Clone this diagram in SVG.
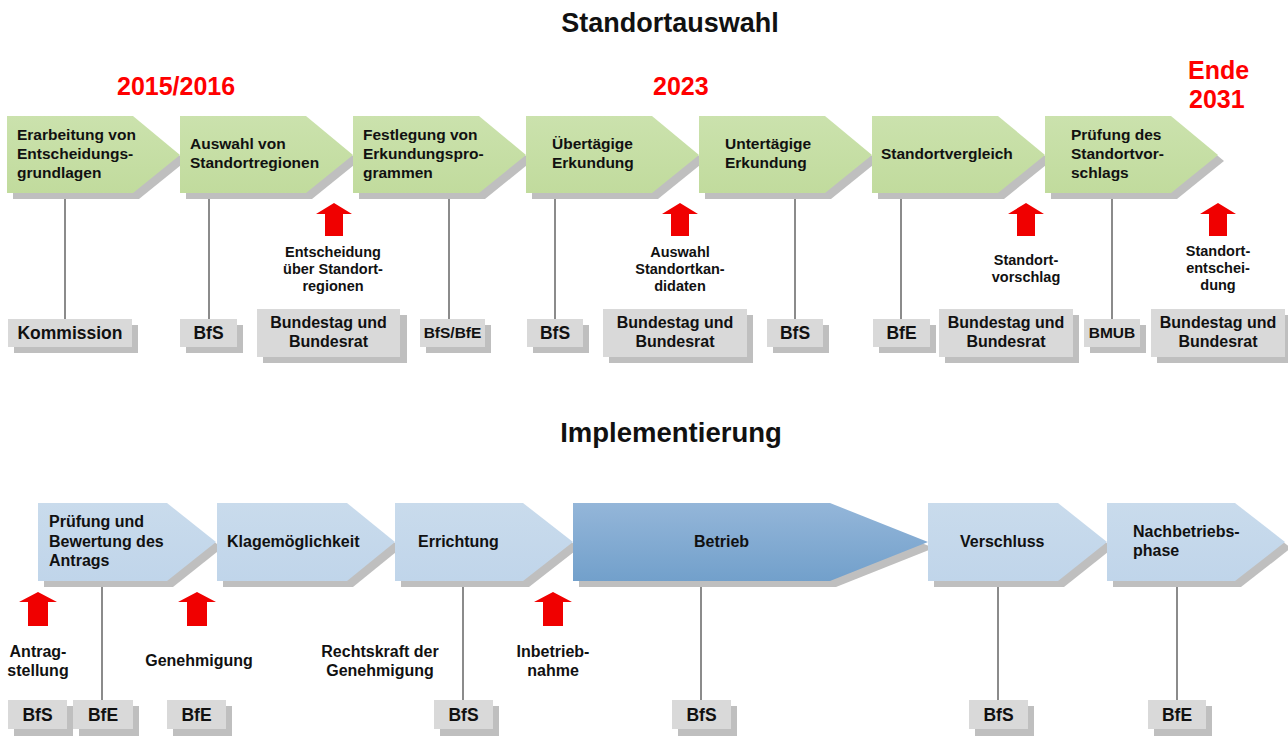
<svg xmlns="http://www.w3.org/2000/svg" xmlns:xlink="http://www.w3.org/1999/xlink" width="1288" height="736" viewBox="0 0 1288 736">
<defs>
<linearGradient id="gGreen" x1="0" y1="0" x2="0" y2="1"><stop offset="0" stop-color="#cbe2ad"/><stop offset="1" stop-color="#c1db9d"/></linearGradient>
<linearGradient id="gBlue" x1="0" y1="0" x2="0" y2="1"><stop offset="0" stop-color="#c9dbec"/><stop offset="1" stop-color="#c0d5ea"/></linearGradient>
<linearGradient id="gDark" x1="0" y1="0" x2="0" y2="1"><stop offset="0" stop-color="#94b6d9"/><stop offset="1" stop-color="#72a0cb"/></linearGradient>
<path id="arrowTop" d="M0,0 L18,11 L9,11 L9,33 L-9,33 L-9,11 L-18,11 Z"/>
<path id="arrowBot" d="M0,0 L19,10 L10,10 L10,34 L-10,34 L-10,10 L-19,10 Z"/>
</defs>
<style>
text{font-family:"Liberation Sans",Arial,sans-serif;font-weight:bold;fill:#111}
.title{font-size:27px;text-anchor:middle}
.year{font-size:25px;fill:#ff0000}
.ct{font-size:15.5px}
.cb{font-size:16px}
.lt{font-size:14.5px;text-anchor:middle}
.lb{font-size:16px;text-anchor:middle}
.bx{font-size:17.5px;text-anchor:middle}
.bxs{font-size:15.5px;text-anchor:middle}
.bx2{font-size:16px;text-anchor:middle}
.sh{fill:#bfbfbf}
.box{fill:#d9d9d9}
.green{fill:url(#gGreen)}
.blue{fill:url(#gBlue)}
.dark{fill:url(#gDark)}
.red{fill:#f00000}
.conn line{stroke:#5a5a5a;stroke-width:1.4}
</style>
<rect width="1288" height="736" fill="#ffffff"/>

<text class="title" x="670" y="32">Standortauswahl</text>
<text class="title" x="671" y="442" style="font-size:27.5px">Implementierung</text>
<text class="year" x="117" y="95">2015/2016</text>
<text class="year" x="653" y="95">2023</text>
<text class="year" x="1188" y="79">Ende</text>
<text class="year" x="1189" y="108">2031</text>

<g id="connectors" class="conn">
<line x1="65" y1="193" x2="65" y2="319"/>
<line x1="209" y1="193" x2="209" y2="319"/>
<line x1="449" y1="193" x2="449" y2="319"/>
<line x1="555" y1="193" x2="555" y2="319"/>
<line x1="795" y1="193" x2="795" y2="319"/>
<line x1="901" y1="193" x2="901" y2="319"/>
<line x1="1112" y1="193" x2="1112" y2="319"/>
<line x1="102" y1="581" x2="102" y2="700"/>
<line x1="463" y1="581" x2="463" y2="700"/>
<line x1="701" y1="581" x2="701" y2="700"/>
<line x1="998" y1="581" x2="998" y2="700"/>
<line x1="1177" y1="581" x2="1177" y2="700"/>
</g>

<!-- top chevrons -->
<g id="s1">
<polygon class="sh" points="13,122 139,122 186,161 139,199 13,199"/>
<polygon class="green" points="7,116 133,116 180,155 133,193 7,193"/>
<text class="ct" x="17" y="140">Erarbeitung von</text>
<text class="ct" x="17" y="159">Entscheidungs-</text>
<text class="ct" x="17" y="178">grundlagen</text>
</g>
<g id="s2">
<polygon class="sh" points="186,122 312,122 359,161 312,199 186,199"/>
<polygon class="green" points="180,116 306,116 353,155 306,193 180,193"/>
<text class="ct" x="190" y="149">Auswahl von</text>
<text class="ct" x="190" y="168">Standortregionen</text>
</g>
<g id="s3">
<polygon class="sh" points="359,122 485,122 532,161 485,199 359,199"/>
<polygon class="green" points="353,116 479,116 526,155 479,193 353,193"/>
<text class="ct" x="363" y="140">Festlegung von</text>
<text class="ct" x="363" y="159">Erkundungspro-</text>
<text class="ct" x="363" y="178">grammen</text>
</g>
<g id="s4">
<polygon class="sh" points="532,122 658,122 705,161 658,199 532,199"/>
<polygon class="green" points="526,116 652,116 699,155 652,193 526,193"/>
<text class="ct" x="552" y="149">Übertägige</text>
<text class="ct" x="552" y="168">Erkundung</text>
</g>
<g id="s5">
<polygon class="sh" points="705,122 831,122 878,161 831,199 705,199"/>
<polygon class="green" points="699,116 825,116 872,155 825,193 699,193"/>
<text class="ct" x="725" y="149">Untertägige</text>
<text class="ct" x="725" y="168">Erkundung</text>
</g>
<g id="s6">
<polygon class="sh" points="878,122 1004,122 1051,161 1004,199 878,199"/>
<polygon class="green" points="872,116 998,116 1045,155 998,193 872,193"/>
<text class="ct" x="881" y="159">Standortvergleich</text>
</g>
<g id="s7">
<polygon class="sh" points="1051,122 1177,122 1224,161 1177,199 1051,199"/>
<polygon class="green" points="1045,116 1171,116 1218,155 1171,193 1045,193"/>
<text class="ct" x="1071" y="140">Prüfung des</text>
<text class="ct" x="1071" y="159">Standortvor-</text>
<text class="ct" x="1071" y="178">schlags</text>
</g>

<!-- top milestones -->
<g id="m1"><use href="#arrowTop" class="red" transform="translate(334,203)"/>
<text class="lt" x="333" y="257">Entscheidung</text><text class="lt" x="333" y="274">über Standort-</text><text class="lt" x="333" y="291">regionen</text></g>
<g id="m2"><use href="#arrowTop" class="red" transform="translate(680,203)"/>
<text class="lt" x="680" y="257">Auswahl</text><text class="lt" x="680" y="274">Standortkan-</text><text class="lt" x="680" y="291">didaten</text></g>
<g id="m3"><use href="#arrowTop" class="red" transform="translate(1026,203)"/>
<text class="lt" x="1026" y="265">Standort-</text><text class="lt" x="1026" y="282">vorschlag</text></g>
<g id="m4"><use href="#arrowTop" class="red" transform="translate(1218,203)"/>
<text class="lt" x="1218" y="256">Standort-</text><text class="lt" x="1218" y="273">entschei-</text><text class="lt" x="1218" y="290">dung</text></g>

<!-- top boxes -->
<g id="b1"><rect class="sh" x="14" y="325" width="124" height="28"/><rect class="box" x="8" y="319" width="124" height="28"/><text class="bx" x="70" y="339">Kommission</text></g>
<g id="b2"><rect class="sh" x="186" y="325" width="57" height="28"/><rect class="box" x="180" y="319" width="57" height="28"/><text class="bx" x="208.5" y="339">BfS</text></g>
<g id="b3"><rect class="sh" x="263" y="315" width="144" height="48"/><rect class="box" x="257" y="309" width="143" height="48"/><text class="bx2" x="328.5" y="328">Bundestag und</text><text class="bx2" x="328.5" y="347">Bundesrat</text></g>
<g id="b4"><rect class="sh" x="426" y="325" width="65" height="28"/><rect class="box" x="420" y="319" width="65" height="28"/><text class="bxs" x="452.5" y="338">BfS/BfE</text></g>
<g id="b5"><rect class="sh" x="533" y="325" width="56" height="28"/><rect class="box" x="527" y="319" width="56" height="28"/><text class="bx" x="555" y="339">BfS</text></g>
<g id="b6"><rect class="sh" x="609" y="315" width="144" height="48"/><rect class="box" x="603" y="309" width="144" height="48"/><text class="bx2" x="675" y="328">Bundestag und</text><text class="bx2" x="675" y="347">Bundesrat</text></g>
<g id="b7"><rect class="sh" x="773" y="325" width="56" height="28"/><rect class="box" x="767" y="319" width="56" height="28"/><text class="bx" x="795" y="339">BfS</text></g>
<g id="b8"><rect class="sh" x="879" y="325" width="57" height="28"/><rect class="box" x="873" y="319" width="57" height="28"/><text class="bx" x="901.5" y="339">BfE</text></g>
<g id="b9"><rect class="sh" x="945" y="315" width="134" height="48"/><rect class="box" x="939" y="309" width="134" height="48"/><text class="bx2" x="1006" y="328">Bundestag und</text><text class="bx2" x="1006" y="347">Bundesrat</text></g>
<g id="b10"><rect class="sh" x="1090" y="325" width="56" height="28"/><rect class="box" x="1084" y="319" width="56" height="28"/><text class="bxs" x="1112" y="338">BMUB</text></g>
<g id="b11"><rect class="sh" x="1157" y="315" width="134" height="48"/><rect class="box" x="1151" y="309" width="134" height="48"/><text class="bx2" x="1218" y="328">Bundestag und</text><text class="bx2" x="1218" y="347">Bundesrat</text></g>

<!-- bottom chevrons -->
<g id="i1">
<polygon class="sh" points="44,509 173,509 222,548 173,587 44,587"/>
<polygon class="blue" points="38,503 167,503 216,542 167,581 38,581"/>
<text class="cb" x="49" y="527">Prüfung und</text>
<text class="cb" x="49" y="547">Bewertung des</text>
<text class="cb" x="49" y="566">Antrags</text>
</g>
<g id="i2">
<polygon class="sh" points="223,509 353,509 401,548 353,587 223,587"/>
<polygon class="blue" points="217,503 347,503 395,542 347,581 217,581"/>
<text class="cb" x="227" y="547">Klagemöglichkeit</text>
</g>
<g id="i3">
<polygon class="sh" points="401,509 529,509 579,548 529,587 401,587"/>
<polygon class="blue" points="395,503 523,503 573,542 523,581 395,581"/>
<text class="cb" x="418" y="547">Errichtung</text>
</g>
<g id="i4">
<polygon class="sh" points="579,509 836,509 934,548 836,587 579,587"/>
<polygon class="dark" points="573,503 830,503 928,542 830,581 573,581"/>
<text class="cb" x="694" y="547">Betrieb</text>
</g>
<g id="i5">
<polygon class="sh" points="934,509 1064,509 1113,548 1064,587 934,587"/>
<polygon class="blue" points="928,503 1058,503 1107,542 1058,581 928,581"/>
<text class="cb" x="960" y="547">Verschluss</text>
</g>
<g id="i6">
<polygon class="sh" points="1113,509 1241,509 1291,548 1241,587 1113,587"/>
<polygon class="blue" points="1107,503 1235,503 1285,542 1235,581 1107,581"/>
<text class="cb" x="1133" y="537">Nachbetriebs-</text>
<text class="cb" x="1133" y="556">phase</text>
</g>

<!-- bottom milestones -->
<g id="n1"><use href="#arrowBot" class="red" transform="translate(38,592)"/>
<text class="lb" x="38" y="657">Antrag-</text><text class="lb" x="38" y="676">stellung</text></g>
<g id="n2"><use href="#arrowBot" class="red" transform="translate(197,592)"/>
<text class="lb" x="199" y="666">Genehmigung</text></g>
<g id="n3"><text class="lb" x="380" y="657">Rechtskraft der</text><text class="lb" x="380" y="676">Genehmigung</text></g>
<g id="n4"><use href="#arrowBot" class="red" transform="translate(553,592)"/>
<text class="lb" x="553" y="657">Inbetrieb-</text><text class="lb" x="553" y="676">nahme</text></g>

<!-- bottom boxes -->
<g id="c1"><rect class="sh" x="14" y="706" width="59" height="30"/><rect class="box" x="8" y="700" width="59" height="29"/><text class="bx" x="37.5" y="721">BfS</text></g>
<g id="c2"><rect class="sh" x="79" y="706" width="60" height="30"/><rect class="box" x="73" y="700" width="60" height="29"/><text class="bx" x="103" y="721">BfE</text></g>
<g id="c3"><rect class="sh" x="173" y="706" width="59" height="30"/><rect class="box" x="167" y="700" width="59" height="29"/><text class="bx" x="196.5" y="721">BfE</text></g>
<g id="c4"><rect class="sh" x="440" y="706" width="59" height="30"/><rect class="box" x="434" y="700" width="59" height="29"/><text class="bx" x="463.5" y="721">BfS</text></g>
<g id="c5"><rect class="sh" x="678" y="706" width="59" height="30"/><rect class="box" x="672" y="700" width="59" height="29"/><text class="bx" x="701.5" y="721">BfS</text></g>
<g id="c6"><rect class="sh" x="975" y="706" width="59" height="30"/><rect class="box" x="969" y="700" width="59" height="29"/><text class="bx" x="998.5" y="721">BfS</text></g>
<g id="c7"><rect class="sh" x="1154" y="706" width="58" height="30"/><rect class="box" x="1148" y="700" width="58" height="29"/><text class="bx" x="1177" y="721">BfE</text></g>
</svg>
